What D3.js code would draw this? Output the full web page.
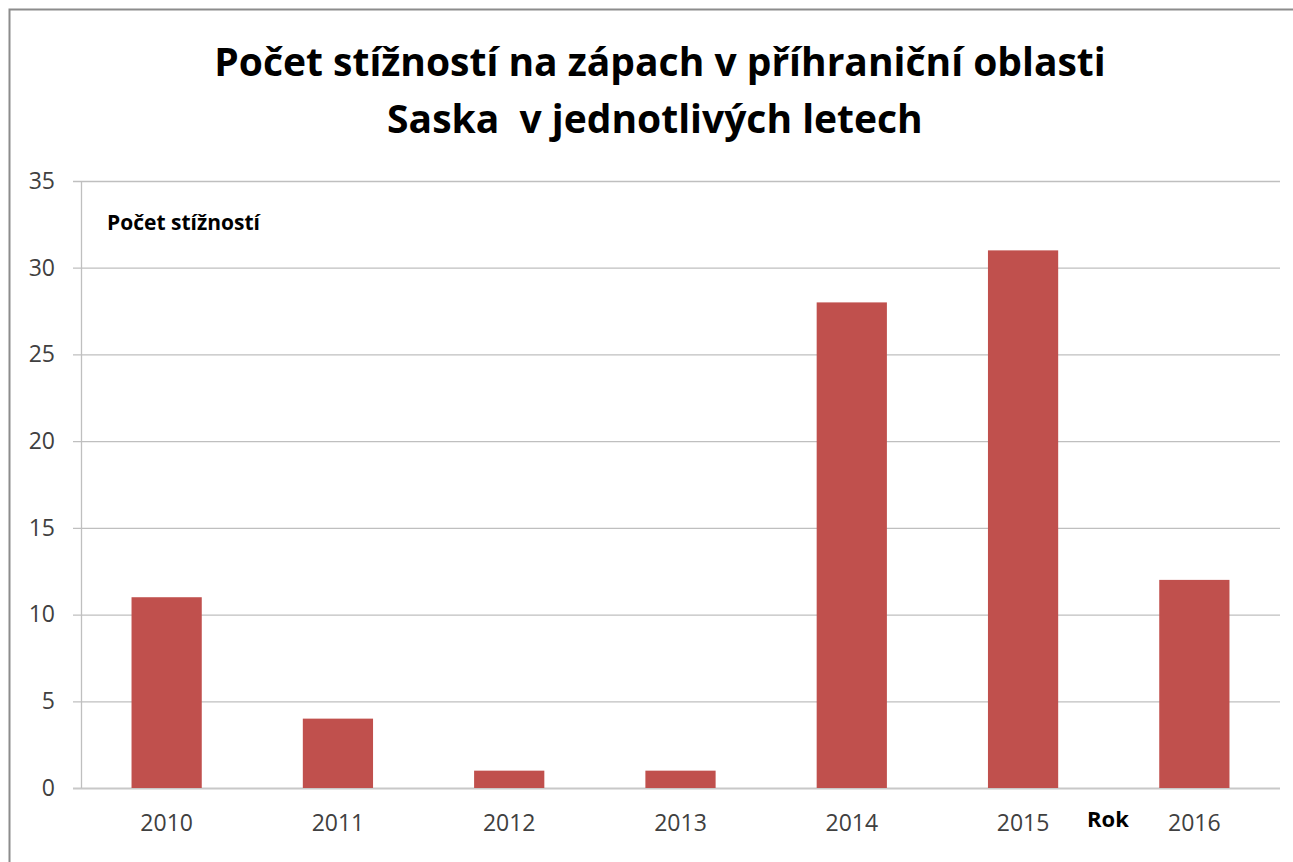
<!DOCTYPE html>
<html>
<head>
<meta charset="utf-8">
<script src="https://cdn.jsdelivr.net/npm/d3@7"></script>
<style>
  body { margin: 0; background: #fff; }
  text { font-family: "Open Sans", "Noto Sans", sans-serif; }
</style>
</head>
<body>
<div id="chart"></div>
<script>
// data
var years = ["2010", "2011", "2012", "2013", "2014", "2015", "2016"];
var complaints = [11, 4, 1, 1, 28, 31, 12];
var yTicks = [0, 5, 10, 15, 20, 25, 30, 35];
var titleLines = ["Počet stížností na zápach v příhraniční oblasti", "Saska  v jednotlivých letech "];

var svgWidth = 1293;
var svgHeight = 862;
var margin = {top: 181, right: 13, bottom: 74, left: 81};
var width = svgWidth - margin.left - margin.right;
var height = svgHeight - margin.top - margin.bottom;

var svg = d3.select("#chart").append("svg")
   .attr("width", svgWidth)
   .attr("height", svgHeight);

// outer frame (only left and top edges show)
svg.append("path")
   .attr("d", "M9.5," + svgHeight + "V9.5H" + svgWidth)
   .attr("fill", "none")
   .attr("stroke", "#8c8c8c")
   .attr("stroke-width", 2);

var chartGroup = svg.append("g")
   .attr("transform", `translate(${margin.left}, ${margin.top})`);

var xScale = d3.scaleBand()
   .domain(years)
   .range([0, width])
   .paddingInner(0.59)
   .paddingOuter(0.295);

var yScale = d3.scaleLinear()
   .domain([0, 35])
   .range([height, 0]);

// gridlines
chartGroup.append("g")
   .selectAll("line")
   .data(yTicks)
   .enter().append("line")
   .attr("x1", -8)
   .attr("x2", width)
   .attr("y1", d => yScale(d) + 0.5)
   .attr("y2", d => yScale(d) + 0.5)
   .attr("stroke", d => d === 0 ? "#c8c8c8" : "#bfbfbf")
   .attr("stroke-width", d => d === 0 ? 2 : 1.3);

// y axis line
chartGroup.append("line")
   .attr("x1", 0.5).attr("x2", 0.5)
   .attr("y1", 0).attr("y2", height)
   .attr("stroke", "#bfbfbf")
   .attr("stroke-width", 1.3);

var leftAxis = d3.axisLeft(yScale).tickValues(yTicks).tickSize(0).tickPadding(26);
var yAxisG = chartGroup.append("g").call(leftAxis);
yAxisG.select(".domain").remove();
yAxisG.selectAll("text")
   .attr("font-size", 23)
   .attr("fill", "#404040")
   .style("font-family", "'Open Sans', sans-serif");

var bottomAxis = d3.axisBottom(xScale).tickSize(0).tickPadding(27);
var xAxisG = chartGroup.append("g")
   .attr("transform", `translate(0, ${height})`)
   .call(bottomAxis);
xAxisG.select(".domain").remove();
xAxisG.selectAll("text")
   .attr("font-size", 23)
   .attr("fill", "#404040")
   .style("font-family", "'Open Sans', sans-serif");

// bars
chartGroup.selectAll(".bar")
   .data(complaints)
   .enter().append("rect")
   .attr("class", "bar")
   .attr("x", (d, i) => xScale(years[i]))
   .attr("y", d => yScale(d))
   .attr("width", xScale.bandwidth())
   .attr("height", d => height - yScale(d))
   .attr("fill", "#c0504d");

// title
svg.append("g").selectAll("text")
   .data(titleLines)
   .enter().append("text")
   .attr("x", 660)
   .attr("y", (d, i) => 76 + i * 57)
   .attr("text-anchor", "middle")
   .attr("font-size", 39)
   .attr("font-weight", "bold")
   .attr("fill", "#000")
   .style("white-space", "pre")
   .text(d => d);

// axis titles
svg.append("text")
   .attr("x", 107)
   .attr("y", 230)
   .attr("font-size", 21)
   .attr("font-weight", "bold")
   .attr("fill", "#000")
   .text("Počet stížností");

svg.append("text")
   .attr("x", 1087)
   .attr("y", 827)
   .attr("font-size", 22)
   .attr("font-weight", "bold")
   .attr("fill", "#000")
   .text("Rok");
</script>
</body>
</html>
